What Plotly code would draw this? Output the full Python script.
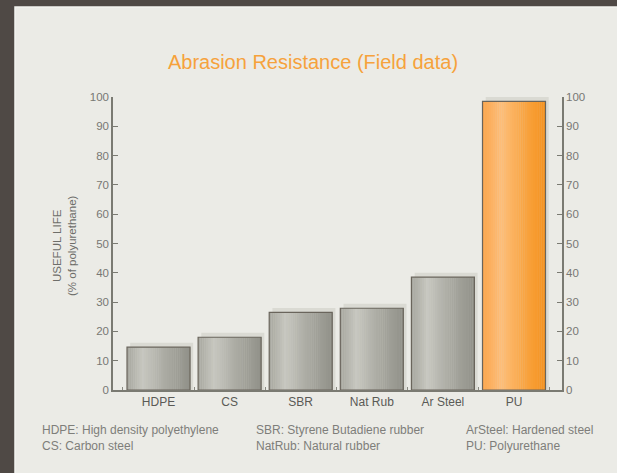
import plotly.graph_objects as go

categories = ["HDPE", "CS", "SBR", "Nat Rub", "Ar Steel", "PU"]
useful_life = [14.6, 18.0, 26.5, 27.9, 38.5, 98.5]
y_ticks = [0, 10, 20, 30, 40, 50, 60, 70, 80, 90, 100]
footnotes_col1 = ["HDPE: High density polyethylene", "CS: Carbon steel"]
footnotes_col2 = ["SBR: Styrene Butadiene rubber", "NatRub: Natural rubber"]
footnotes_col3 = ["ArSteel: Hardened steel", "PU: Polyurethane"]

W, H = 617, 473
L, R, T, B = 113, 55, 97, 83
PW, PH = W - L - R, H - T - B

def px_x(px):
    return (px - L) / PW

def px_y(py):
    return (H - B - py) / PH

def hex2rgb(h):
    h = h.lstrip("#")
    return tuple(int(h[i:i + 2], 16) for i in (0, 2, 4))

def grad(stops, t):
    for (t0, c0), (t1, c1) in zip(stops, stops[1:]):
        if t <= t1:
            f = (t - t0) / (t1 - t0) if t1 > t0 else 0
            a, b = hex2rgb(c0), hex2rgb(c1)
            return "rgb(%d,%d,%d)" % tuple(round(a[k] + (b[k] - a[k]) * f) for k in range(3))
    return "rgb(%d,%d,%d)" % hex2rgb(stops[-1][1])

gray_stops = [(0.0, "#A6A69E"), (0.25, "#C7C7C0"), (0.6, "#ABABA3"), (1.0, "#919189")]
orange_stops = [(0.0, "#FBA64E"), (0.3, "#FDBE7A"), (0.65, "#F9A645"), (1.0, "#F5911C")]

bw = 0.886
N = 30
fig = go.Figure()

# shadow
fig.add_trace(go.Bar(
    x=categories, y=[v + 1.5 for v in useful_life], width=bw, offset=-bw / 2 + 0.045,
    marker=dict(color="#DADAD3", line=dict(width=0)), hoverinfo="skip", showlegend=False))

# gradient slices
for i in range(N):
    t = (i + 0.5) / N
    cols = [grad(orange_stops if c == "PU" else gray_stops, t) for c in categories]
    fig.add_trace(go.Bar(
        x=categories, y=useful_life, width=bw / N * 1.15, offset=-bw / 2 + i * bw / N,
        marker=dict(color=cols, line=dict(width=0)), hoverinfo="skip", showlegend=False))

# outline
fig.add_trace(go.Bar(
    x=categories, y=useful_life, width=bw, offset=-bw / 2,
    marker=dict(color="rgba(0,0,0,0)", line=dict(color="#6A655C", width=1.2)),
    showlegend=False, yaxis="y"))

# invisible trace for right axis
fig.add_trace(go.Scatter(x=categories, y=useful_life, yaxis="y2", mode="markers",
                         marker=dict(opacity=0), hoverinfo="skip", showlegend=False))

axis_common = dict(range=[0, 100], tickvals=y_ticks, ticks="inside", ticklen=5, tickwidth=1.2,
                   tickcolor="#7A7A72", showline=True, linecolor="#7A7A72", linewidth=1.5,
                   showgrid=False, zeroline=False,
                   tickfont=dict(family="Liberation Sans", size=11.5, color="#787874"))

fig.update_layout(
    width=W, height=H,
    margin=dict(l=L, r=R, t=T, b=B, pad=0),
    paper_bgcolor="#4F4945", plot_bgcolor="rgba(0,0,0,0)",
    barmode="overlay",
    xaxis=dict(range=[-0.64, 5.675], showline=True, linecolor="#7A7A72", linewidth=1.5,
               ticks="inside", tickson="boundaries", ticklen=3, tickcolor="#8A8A82",
               showgrid=False, zeroline=False,
               tickfont=dict(family="Liberation Sans", size=12, color="#5A5A56")),
    yaxis=dict(side="left", **axis_common),
    yaxis2=dict(side="right", overlaying="y", **axis_common),
    title=dict(text="Abrasion Resistance (Field data)", x=313 / W, xanchor="center",
               y=1 - 62 / H, yanchor="middle",
               font=dict(family="Liberation Sans", size=20, color="#F6A23C")),
    shapes=[dict(type="rect", xref="paper", yref="paper", layer="below",
                 x0=px_x(15), x1=px_x(W + 5), y0=px_y(H + 5), y1=px_y(7),
                 fillcolor="#EBEBE6", line=dict(color="#F4F4F0", width=1.5))],
)

annotations = [dict(text="USEFUL LIFE<br>(% of polyurethane)", xref="paper", yref="paper",
                    x=px_x(64), y=px_y(246), textangle=-90, showarrow=False,
                    xanchor="center", yanchor="middle",
                    font=dict(family="Liberation Sans", size=11.5, color="#6E6E6A"))]
for col, xpx in ((footnotes_col1, 40), (footnotes_col2, 254), (footnotes_col3, 464)):
    for j, txt in enumerate(col):
        annotations.append(dict(text=txt, xref="paper", yref="paper", x=px_x(xpx),
                                y=px_y(430 + j * 16), xanchor="left", yanchor="middle",
                                showarrow=False,
                                font=dict(family="Liberation Sans", size=12, color="#7E7E7A")))
fig.update_layout(annotations=annotations)

fig.write_html("out.html", config={"displayModeBar": False},
               post_script="document.body.style.margin='0px';document.body.style.overflow='hidden';")
